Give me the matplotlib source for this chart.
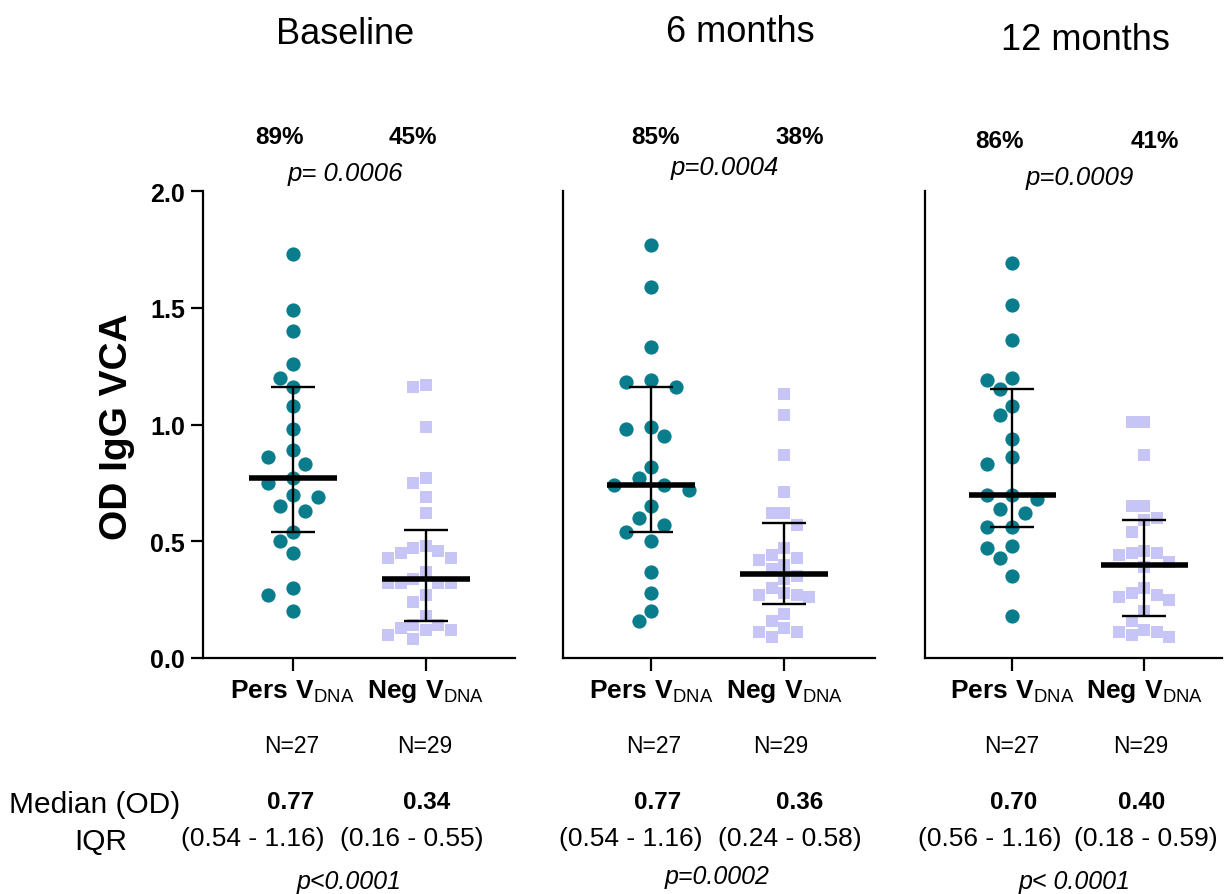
import numpy as np
import matplotlib.pyplot as plt

plt.rcParams['font.family'] = ['Liberation Sans', 'DejaVu Sans']
plt.rcParams['mathtext.fontset'] = 'custom'
plt.rcParams['mathtext.rm'] = 'Liberation Sans'
plt.rcParams['mathtext.bf'] = 'Liberation Sans:bold'

# ---- data ----
timepoints = ['Baseline', '6 months', '12 months']

pers_base = [1.73, 1.49, 1.40, 1.26, 1.20, 1.16, 1.08, 0.98, 0.89, 0.86, 0.83, 0.77,
             0.75, 0.70, 0.69, 0.65, 0.63, 0.54, 0.50, 0.45, 0.30, 0.27, 0.20]
neg_base = [1.16, 1.17, 0.99, 0.75, 0.77, 0.69, 0.62, 0.48, 0.47, 0.46, 0.45, 0.43, 0.43,
            0.37, 0.34, 0.32, 0.32, 0.32, 0.32, 0.27, 0.24, 0.18, 0.12, 0.14, 0.12,
            0.14, 0.13, 0.10, 0.08]
pers_6m = [1.77, 1.59, 1.33, 1.19, 1.18, 1.16, 0.98, 0.99, 0.95, 0.82, 0.77, 0.74,
           0.74, 0.72, 0.65, 0.60, 0.57, 0.54, 0.50, 0.37, 0.28, 0.20, 0.16]
neg_6m = [1.13, 1.04, 0.87, 0.71, 0.62, 0.62, 0.57, 0.47, 0.44, 0.43, 0.42, 0.40,
          0.38, 0.35, 0.34, 0.30, 0.28, 0.27, 0.26, 0.27, 0.19, 0.16, 0.13, 0.11,
          0.11, 0.09]
pers_12m = [1.69, 1.51, 1.36, 1.19, 1.20, 1.15, 1.08, 1.04, 0.94, 0.86, 0.83, 0.70,
            0.70, 0.68, 0.64, 0.62, 0.56, 0.56, 0.48, 0.47, 0.43, 0.35, 0.18]
neg_12m = [1.01, 1.01, 0.87, 0.65, 0.65, 0.59, 0.60, 0.54, 0.45, 0.44, 0.45, 0.46,
           0.41, 0.39, 0.28, 0.30, 0.25, 0.26, 0.27, 0.20, 0.16, 0.10, 0.12, 0.11,
           0.11, 0.09]

pers_med = [0.77, 0.74, 0.70]
pers_q1 = [0.54, 0.54, 0.56]
pers_q3 = [1.16, 1.16, 1.15]
neg_med = [0.34, 0.36, 0.40]
neg_q1 = [0.16, 0.23, 0.18]
neg_q3 = [0.55, 0.58, 0.59]

pct_pers = ['89%', '85%', '86%']
pct_neg = ['45%', '38%', '41%']
p_top = ['p= 0.0006', 'p=0.0004', 'p=0.0009']
n_pers = ['N=27', 'N=27', 'N=27']
n_neg = ['N=29', 'N=29', 'N=29']
med_lbl_pers = ['0.77', '0.77', '0.70']
med_lbl_neg = ['0.34', '0.36', '0.40']
iqr_pers = ['(0.54 - 1.16)', '(0.54 - 1.16)', '(0.56 - 1.16)']
iqr_neg = ['(0.16 - 0.55)', '(0.24 - 0.58)', '(0.18 - 0.59)']
p_bottom = ['p<0.0001', 'p=0.0002', 'p< 0.0001']

pers_data = [pers_base, pers_6m, pers_12m]
neg_data = [neg_base, neg_6m, neg_12m]

TEAL = '#0a7d8c'
LAV = '#c6c5f5'

W, H = 1225, 895
fig = plt.figure(figsize=(W / 100, H / 100), dpi=100)

# axes boxes in pixels: left, right, top, bottom
boxes = [(203, 515, 192, 659), (563, 875, 192, 659), (925, 1222, 192, 659)]
xlims = [(-0.674, 1.671), (-0.662, 1.68), (-0.661, 1.589)]


def swarm_offsets(values, x_scale, y_scale, step=13.0, diam=15.0):
    # simple beeswarm: put each point as close to the centre as possible
    values = np.asarray(values, dtype=float)
    order = np.argsort(values)[::-1]
    placed = []
    offs = np.zeros(len(values))
    cands = [0]
    for j in range(1, 20):
        cands += [-j, j]
    for i in order:
        y = values[i] * y_scale
        for c in cands:
            x = c * step
            if all((x - px) ** 2 + (y - py) ** 2 >= diam ** 2 for px, py in placed):
                break
        placed.append((x, y))
        offs[i] = x / x_scale
    return offs


def px(x, y):
    return x / W, 1 - y / H


for k in range(3):
    l, r, t, b = boxes[k]
    ax = fig.add_axes([l / W, 1 - b / H, (r - l) / W, (b - t) / H])
    ax.set_xlim(*xlims[k])
    ax.set_ylim(0, 2.0)
    x_scale = (r - l) / (xlims[k][1] - xlims[k][0])
    y_scale = (b - t) / 2.0

    po = swarm_offsets(pers_data[k], x_scale, y_scale, step=12.5, diam=15.5)
    no = swarm_offsets(neg_data[k], x_scale, y_scale, step=12.5, diam=12.5)
    ax.scatter(0 + po, pers_data[k], s=105, marker='o', color=TEAL, linewidths=0, zorder=2)
    ax.scatter(1 + no, neg_data[k], s=80, marker='s', color=LAV, linewidths=0, zorder=2)

    for xi, m, q1, q3 in [(0, pers_med[k], pers_q1[k], pers_q3[k]),
                          (1, neg_med[k], neg_q1[k], neg_q3[k])]:
        ax.errorbar([xi], [m], yerr=[[m - q1], [q3 - m]], fmt='none', ecolor='black',
                    elinewidth=1.7, capsize=15.5, capthick=1.7, zorder=3)
        ax.hlines(m, xi - 0.33, xi + 0.33, color='black', lw=4, zorder=4)

    for s in ['top', 'right']:
        ax.spines[s].set_visible(False)
    for s in ['left', 'bottom']:
        ax.spines[s].set_linewidth(1.6)
    ax.set_xticks([0, 1])
    ax.set_xticklabels([r'$\mathbf{Pers\ V}_{\mathrm{DNA}}$', r'$\mathbf{Neg\ V}_{\mathrm{DNA}}$'],
                       fontsize=19)
    ax.tick_params(axis='x', length=9, width=1.6, pad=5)
    if k == 0:
        ax.set_yticks([0, 0.5, 1.0, 1.5, 2.0])
        ax.set_yticklabels(['0.0', '0.5', '1.0', '1.5', '2.0'], fontsize=18, fontweight='bold')
        ax.tick_params(axis='y', length=9, width=1.6, pad=4)
    else:
        ax.set_yticks([])

fig.text(*px(117, 427), 'OD IgG VCA', rotation=90, fontsize=28, fontweight='bold',
         ha='center', va='center')

title_pos = [(345, 35), (740, 33), (1085, 40)]
pct_pos = [((280, 138), (413, 138)), ((656, 137), (800, 137)), ((1000, 142), (1155, 142))]
ptop_pos = [(345, 174), (725, 168), (1080, 178)]
n_pos = [(292, 425), (654, 781), (1012, 1141)]
med_pos = [(291, 427), (658, 800), (1014, 1142)]
iqr_pos = [(253, 412), (631, 790), (990, 1146)]
pbot_pos = [(349, 882), (717, 877), (1075, 882)]

for k in range(3):
    fig.text(*px(*title_pos[k]), timepoints[k], fontsize=26, ha='center', va='center')
    fig.text(*px(*pct_pos[k][0]), pct_pers[k], fontsize=17.5, fontweight='bold', ha='center', va='center')
    fig.text(*px(*pct_pos[k][1]), pct_neg[k], fontsize=17.5, fontweight='bold', ha='center', va='center')
    fig.text(*px(*ptop_pos[k]), p_top[k], fontsize=18.5, style='italic', ha='center', va='center')
    fig.text(*px(n_pos[k][0], 747), n_pers[k], fontsize=16.5, ha='center', va='center')
    fig.text(*px(n_pos[k][1], 747), n_neg[k], fontsize=16.5, ha='center', va='center')
    fig.text(*px(med_pos[k][0], 803), med_lbl_pers[k], fontsize=17.5, fontweight='bold', ha='center', va='center')
    fig.text(*px(med_pos[k][1], 803), med_lbl_neg[k], fontsize=17.5, fontweight='bold', ha='center', va='center')
    fig.text(*px(iqr_pos[k][0], 839), iqr_pers[k], fontsize=19, ha='center', va='center')
    fig.text(*px(iqr_pos[k][1], 839), iqr_neg[k], fontsize=19, ha='center', va='center')
    fig.text(*px(*pbot_pos[k]), p_bottom[k], fontsize=18, style='italic', ha='center', va='center')

fig.text(*px(95, 805), 'Median (OD)', fontsize=21.5, ha='center', va='center')
fig.text(*px(101, 842), 'IQR', fontsize=21.5, ha='center', va='center')

fig.savefig('out.png', dpi=100)
